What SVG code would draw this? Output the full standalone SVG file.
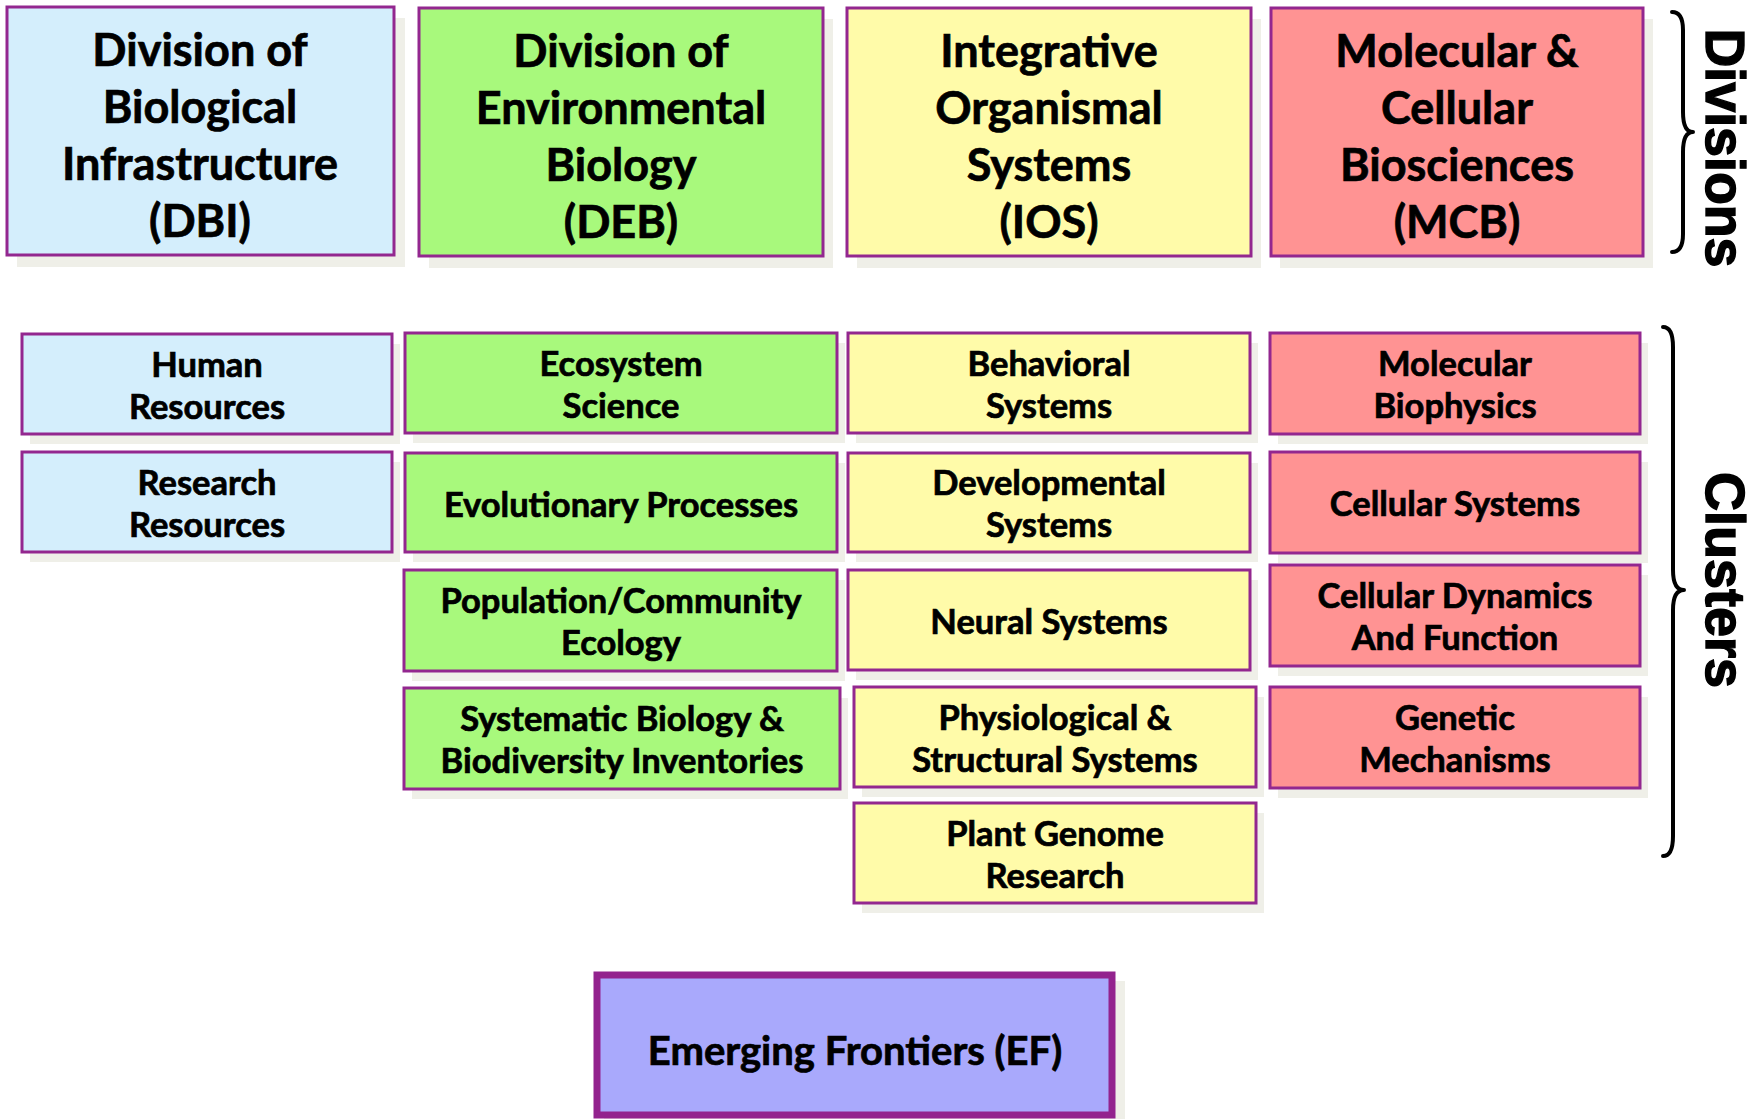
<svg xmlns="http://www.w3.org/2000/svg" width="1761" height="1119" viewBox="0 0 1761 1119">
<style>
.sh{fill:#efefe8}
.box{stroke:#93278f;stroke-width:3}
.blue{fill:#d4eefc}
.green{fill:#a8f97c}
.yellow{fill:#fffba9}
.red{fill:#ff9393}
.ef{fill:#a9a9fc;stroke:#93238e;stroke-width:7}
.t{font-family:Lato,"Open Sans",sans-serif;font-weight:bold;fill:#000;stroke:#000;stroke-width:0.7;text-anchor:middle}
.dt{font-size:45px}
.ct{font-size:34.5px}
.et{font-size:40px}
.vt{font-family:"Liberation Sans",Arial,sans-serif;font-weight:bold;font-size:55px;text-anchor:middle;fill:#000;stroke:#000;stroke-width:1.4}
.brace{fill:none;stroke:#000;stroke-width:4;stroke-linecap:round;stroke-linejoin:round}
</style>
<rect width="1761" height="1119" fill="#fff"/>

<!-- Divisions -->
<g id="dbi">
<rect class="sh" x="17" y="18" width="388" height="249"/>
<rect class="box blue" x="7" y="7" width="387" height="248"/>
<text class="t dt"><tspan x="200" y="66">Division of</tspan><tspan x="200" y="123">Biological</tspan><tspan x="200" y="180">Infrastructure</tspan><tspan x="200" y="237">(DBI)</tspan></text>
</g>
<g id="deb">
<rect class="sh" x="429" y="19" width="404" height="249"/>
<rect class="box green" x="419" y="8" width="404" height="248"/>
<text class="t dt"><tspan x="621" y="67">Division of</tspan><tspan x="621" y="124">Environmental</tspan><tspan x="621" y="181">Biology</tspan><tspan x="621" y="238">(DEB)</tspan></text>
</g>
<g id="ios">
<rect class="sh" x="857" y="19" width="404" height="249"/>
<rect class="box yellow" x="847" y="8" width="404" height="248"/>
<text class="t dt"><tspan x="1049" y="67">Integrative</tspan><tspan x="1049" y="124">Organismal</tspan><tspan x="1049" y="181">Systems</tspan><tspan x="1049" y="238">(IOS)</tspan></text>
</g>
<g id="mcb">
<rect class="sh" x="1280" y="19" width="373" height="249"/>
<rect class="box red" x="1271" y="8" width="372" height="248"/>
<text class="t dt"><tspan x="1457" y="67">Molecular &amp;</tspan><tspan x="1457" y="124">Cellular</tspan><tspan x="1457" y="181">Biosciences</tspan><tspan x="1457" y="238">(MCB)</tspan></text>
</g>

<!-- DBI clusters -->
<g id="human-resources">
<rect class="sh" x="30" y="344" width="370" height="100"/>
<rect class="box blue" x="22" y="334" width="370" height="100"/>
<text class="t ct"><tspan x="207" y="377">Human</tspan><tspan x="207" y="419">Resources</tspan></text>
</g>
<g id="research-resources">
<rect class="sh" x="30" y="462" width="370" height="100"/>
<rect class="box blue" x="22" y="452" width="370" height="100"/>
<text class="t ct"><tspan x="207" y="495">Research</tspan><tspan x="207" y="537">Resources</tspan></text>
</g>

<!-- DEB clusters -->
<g id="ecosystem-science">
<rect class="sh" x="413" y="343" width="432" height="100"/>
<rect class="box green" x="405" y="333" width="432" height="100"/>
<text class="t ct"><tspan x="621" y="376">Ecosystem</tspan><tspan x="621" y="418">Science</tspan></text>
</g>
<g id="evolutionary-processes">
<rect class="sh" x="413" y="463" width="432" height="99"/>
<rect class="box green" x="405" y="453" width="432" height="99"/>
<text class="t ct" x="621" y="517">Evolutionary Processes</text>
</g>
<g id="population-community-ecology">
<rect class="sh" x="412" y="580" width="433" height="101"/>
<rect class="box green" x="404" y="570" width="433" height="101"/>
<text class="t ct"><tspan x="621" y="613">Population/Community</tspan><tspan x="621" y="655">Ecology</tspan></text>
</g>
<g id="systematic-biology">
<rect class="sh" x="412" y="698" width="436" height="101"/>
<rect class="box green" x="404" y="688" width="436" height="101"/>
<text class="t ct"><tspan x="622" y="731">Systematic Biology &amp;</tspan><tspan x="622" y="773">Biodiversity Inventories</tspan></text>
</g>

<!-- IOS clusters -->
<g id="behavioral-systems">
<rect class="sh" x="856" y="343" width="402" height="100"/>
<rect class="box yellow" x="848" y="333" width="402" height="100"/>
<text class="t ct"><tspan x="1049" y="376">Behavioral</tspan><tspan x="1049" y="418">Systems</tspan></text>
</g>
<g id="developmental-systems">
<rect class="sh" x="856" y="463" width="402" height="99"/>
<rect class="box yellow" x="848" y="453" width="402" height="99"/>
<text class="t ct"><tspan x="1049" y="495">Developmental</tspan><tspan x="1049" y="537">Systems</tspan></text>
</g>
<g id="neural-systems">
<rect class="sh" x="856" y="580" width="402" height="100"/>
<rect class="box yellow" x="848" y="570" width="402" height="100"/>
<text class="t ct" x="1049" y="634">Neural Systems</text>
</g>
<g id="physiological-structural-systems">
<rect class="sh" x="862" y="697" width="402" height="100"/>
<rect class="box yellow" x="854" y="687" width="402" height="100"/>
<text class="t ct"><tspan x="1055" y="730">Physiological &amp;</tspan><tspan x="1055" y="772">Structural Systems</tspan></text>
</g>
<g id="plant-genome-research">
<rect class="sh" x="862" y="813" width="402" height="100"/>
<rect class="box yellow" x="854" y="803" width="402" height="100"/>
<text class="t ct"><tspan x="1055" y="846">Plant Genome</tspan><tspan x="1055" y="888">Research</tspan></text>
</g>

<!-- MCB clusters -->
<g id="molecular-biophysics">
<rect class="sh" x="1278" y="343" width="370" height="101"/>
<rect class="box red" x="1270" y="333" width="370" height="101"/>
<text class="t ct"><tspan x="1455" y="376">Molecular</tspan><tspan x="1455" y="418">Biophysics</tspan></text>
</g>
<g id="cellular-systems">
<rect class="sh" x="1278" y="462" width="370" height="101"/>
<rect class="box red" x="1270" y="452" width="370" height="101"/>
<text class="t ct" x="1455" y="516">Cellular Systems</text>
</g>
<g id="cellular-dynamics">
<rect class="sh" x="1278" y="575" width="370" height="101"/>
<rect class="box red" x="1270" y="565" width="370" height="101"/>
<text class="t ct"><tspan x="1455" y="608">Cellular Dynamics</tspan><tspan x="1455" y="650">And Function</tspan></text>
</g>
<g id="genetic-mechanisms">
<rect class="sh" x="1278" y="697" width="370" height="101"/>
<rect class="box red" x="1270" y="687" width="370" height="101"/>
<text class="t ct"><tspan x="1455" y="730">Genetic</tspan><tspan x="1455" y="772">Mechanisms</tspan></text>
</g>

<!-- Emerging Frontiers -->
<g id="emerging-frontiers">
<rect class="sh" x="604" y="981" width="521" height="145"/>
<rect class="ef" x="597" y="975" width="515" height="140"/>
<text class="t et" x="855" y="1065">Emerging Frontiers (EF)</text>
</g>

<!-- Braces and side labels -->
<g id="connectors">
<path class="brace" d="M1672 12 Q1683 12 1683 30 L1683 112 Q1683 132 1693 132 Q1683 132 1683 152 L1683 234 Q1683 252 1672 252"/>
<path class="brace" d="M1663 327 Q1673 327 1673 347 L1673 570 Q1673 590 1684 590 Q1673 590 1673 610 L1673 836 Q1673 856 1663 856"/>
</g>
<g id="divisions-label">
<text class="vt" transform="translate(1706,148) rotate(90)" x="0" y="0" textLength="239" lengthAdjust="spacingAndGlyphs">Divisions</text>
</g>
<g id="clusters-label">
<text class="vt" transform="translate(1706,580) rotate(90)" x="0" y="0" textLength="216" lengthAdjust="spacingAndGlyphs">Clusters</text>
</g>
</svg>
